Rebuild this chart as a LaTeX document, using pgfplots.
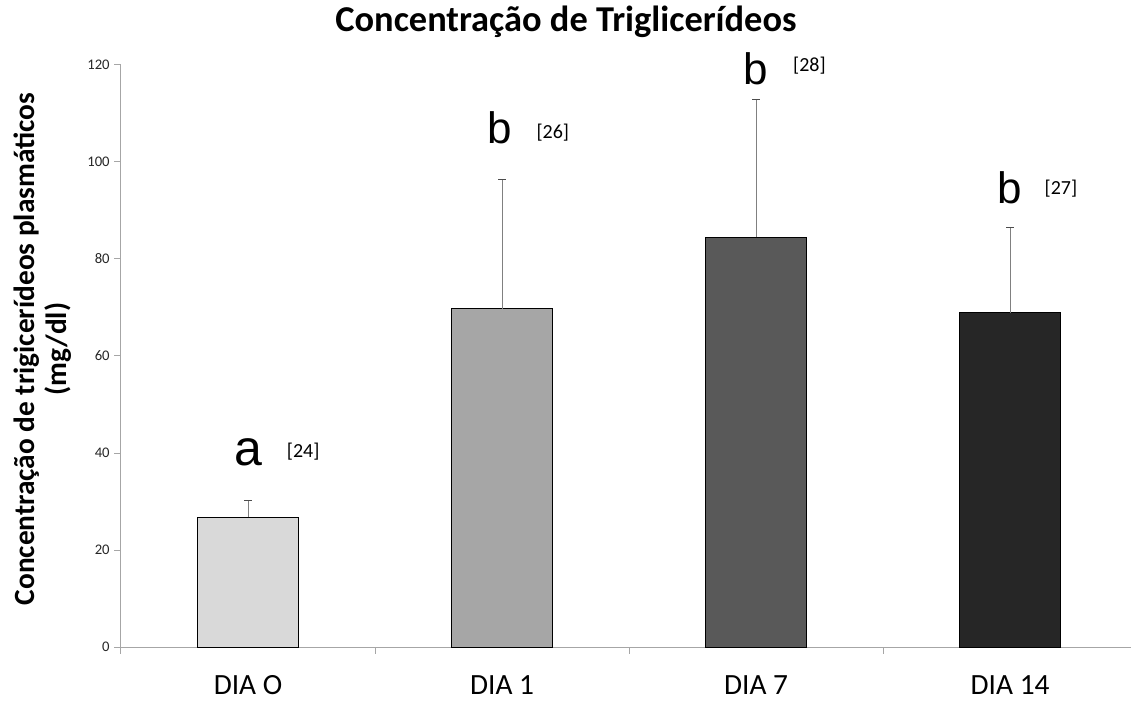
\documentclass[border=0pt]{standalone}
\usepackage{fontspec}
\setmainfont{Carlito}
\newfontfamily\arial{Liberation Sans}
\usepackage{pgfplots}
\pgfplotsset{compat=1.18}
\definecolor{axgray}{HTML}{A6A6A6}
\definecolor{errgray}{HTML}{808080}
\definecolor{cA}{HTML}{D9D9D9}
\definecolor{cB}{HTML}{A6A6A6}
\definecolor{cC}{HTML}{595959}
\definecolor{cD}{HTML}{262626}
\begin{document}
\begin{tikzpicture}
\useasboundingbox (-90.75pt,-39.75pt) rectangle (757.5pt,485.25pt);
\begin{axis}[
  at={(0,0)}, anchor=south west,
  scale only axis, width=757.5pt, height=436.5pt,
  ybar, bar width=0.4, bar shift=0pt,
  xmin=-0.5, xmax=3.476, ymin=0, ymax=120,
  axis x line=bottom, axis y line=left,
  axis line style={-, draw=axgray, line width=0.75pt},
  ytick={0,20,...,120},
  xtick={-0.5,0.5,1.5,2.5,3.5}, xticklabels={},
  extra x ticks={0,1,2,3},
  extra x tick labels={DIA O, DIA 1, DIA 7, DIA 14},
  extra x tick style={major tick length=0pt, tick label style={font=\fontsize{22}{24}\selectfont, anchor=base, inner sep=0pt, yshift=-35.5pt}},
  tick align=outside,
  major tick length=5pt,
  tick style={draw=axgray, line width=0.75pt},
  yticklabel style={font=\fontsize{11}{12}\selectfont, text=black!85},
  /pgf/number format/assume math mode=true,
  ylabel={Concentração de trigicerídeos plasmáticos\\(mg/dl)},
  ylabel style={font=\bfseries\fontsize{22}{24}\selectfont, align=center, at={(axis description cs:-0.0777,0.512)}, anchor=center, rotate=0},
  error bars/y dir=plus, error bars/y explicit,
  error bars/error bar style={draw=errgray, line width=0.75pt},
  error bars/error mark options={draw=black!70, mark size=3pt, line width=0.75pt, rotate=90},
  clip=false,
]
\addplot[fill=cA, draw=black, line width=0.75pt] coordinates {(0,26.8) +- (0,3.5)};
\addplot[fill=cB, draw=black, line width=0.75pt] coordinates {(1,69.7) +- (0,26.6)};
\addplot[fill=cC, draw=black, line width=0.75pt] coordinates {(2,84.5) +- (0,28.3)};
\addplot[fill=cD, draw=black, line width=0.75pt] coordinates {(3,68.9) +- (0,17.5)};
\node[font=\arial\fontsize{37.5}{40}\selectfont, anchor=base, inner sep=0pt] at (axis cs:0,37.5) {a};
\node[font=\arial\fontsize{33}{36}\selectfont, anchor=base, inner sep=0pt] at (axis cs:0.99,103.9) {b};
\node[font=\arial\fontsize{33}{36}\selectfont, anchor=base, inner sep=0pt] at (axis cs:2,115.9) {b};
\node[font=\arial\fontsize{33}{36}\selectfont, anchor=base, inner sep=0pt] at (axis cs:3,91.5) {b};
\node[font=\fontsize{15}{17}\selectfont, anchor=base, inner sep=0pt] at (axis cs:0.217,39.0) {[24]};
\node[font=\fontsize{15}{17}\selectfont, anchor=base, inner sep=0pt] at (axis cs:1.2,104.9) {[26]};
\node[font=\fontsize{15}{17}\selectfont, anchor=base, inner sep=0pt] at (axis cs:2.21,118.6) {[28]};
\node[font=\fontsize{15}{17}\selectfont, anchor=base, inner sep=0pt] at (axis cs:3.2,93.2) {[27]};
\node[font=\bfseries\fontsize{27.3}{30}\selectfont, anchor=base, inner sep=0pt] at (axis description cs:0.4406,1.0572) {Concentração de Triglicerídeos};
\end{axis}
\end{tikzpicture}
\end{document}
